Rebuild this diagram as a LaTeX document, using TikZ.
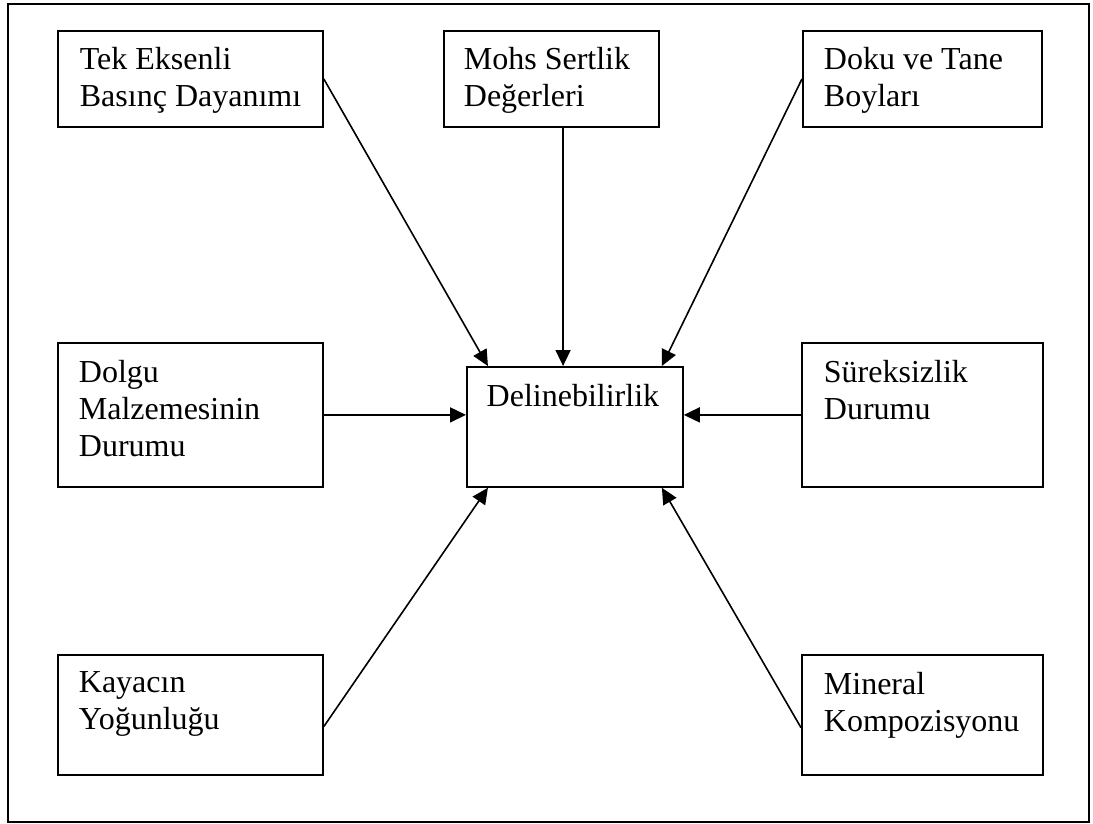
\documentclass[tikz,border=0pt]{standalone}
\usepackage{fontspec}
\setmainfont{Liberation Serif}
\usetikzlibrary{arrows.meta}

\begin{document}
\begin{tikzpicture}[x=1pt, y=-1pt, line width=1.8pt,
		kutu/.style = {draw, anchor=north west, inner sep=0pt},
		yazi/.style = {anchor=north west, align=left, inner sep=0pt, font=\fontsize{32}{37}\selectfont},
		ok/.style = {-{Triangle[length=16pt, width=15pt]}, line width=1.6pt}]
		\useasboundingbox (0,0) rectangle (1093,824);
		\draw (8,4) rectangle (1089,822);
		
		\node[kutu, minimum width=265pt, minimum height=96pt] (tek) at (57,30) {};
		\node[kutu, minimum width=215pt, minimum height=96pt] (mohs) at (443,30) {};
		\node[kutu, minimum width=239pt, minimum height=96pt] (doku) at (802,30) {};
		\node[kutu, minimum width=265pt, minimum height=144pt] (dolgu) at (57,342) {};
		\node[kutu, minimum width=216pt, minimum height=120pt] (del) at (466,366) {};
		\node[kutu, minimum width=241pt, minimum height=144pt] (sur) at (801,342) {};
		\node[kutu, minimum width=265pt, minimum height=120pt] (kay) at (57,654) {};
		\node[kutu, minimum width=241pt, minimum height=120pt] (min) at (801,654) {};
		
		\node[yazi] (tekyazi) at ([xshift=22pt, yshift=-16pt]tek.north west) {Tek Eksenli\\Basınç Dayanımı};
		\node[yazi] (mohsyazi) at ([xshift=20pt, yshift=-16pt]mohs.north west) {Mohs Sertlik\\Değerleri};
		\node[yazi] (dokuyazi) at ([xshift=21pt, yshift=-16pt]doku.north west) {Doku ve Tane\\Boyları};
		\node[yazi] (dolguyazi) at ([xshift=21pt, yshift=-17pt]dolgu.north west) {Dolgu\\Malzemesinin\\Durumu};
		\node[yazi, anchor=north] (delyazi) at ([xshift=-2pt, yshift=-17pt]del.north) {Delinebilirlik};
		\node[yazi] (suryazi) at ([xshift=22pt, yshift=-17pt]sur.north west) {Süreksizlik\\Durumu};
		\node[yazi] (kayyazi) at ([xshift=21pt, yshift=-17pt]kay.north west) {Kayacın\\Yoğunluğu};
		\node[yazi] (minyazi) at ([xshift=22pt, yshift=-17pt]min.north west) {Mineral\\Kompozisyonu};
		
		\draw[ok] (tek.east) -- (del.145);
		\draw[ok] (del.101 |- mohs.south) -- (del.101);
		\draw[ok] (doku.west) -- (del.35);
		\draw[ok] (dolgu.east) -- (dolgu.east -| del.west);
		\draw[ok] (sur.west) -- (sur.west -| del.east);
		\draw[ok] (kay.-5) -- (del.215);
		\draw[ok] (min.186) -- (del.325);
	\end{tikzpicture}
\end{document}
